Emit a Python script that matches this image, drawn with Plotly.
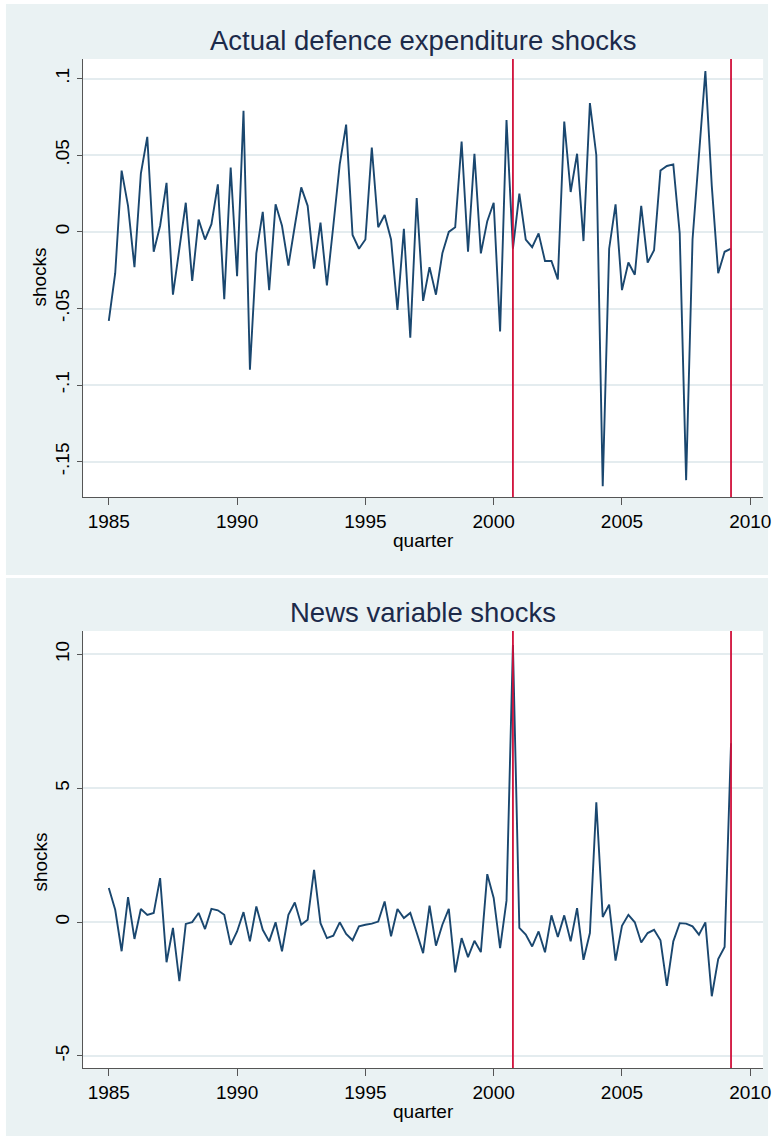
"""Defence expenditure shocks vs news variable shocks (Stata-style two-panel)."""

import plotly.graph_objects as go

# quarterly shocks, 1985q1 .. 2009q2
defence_shocks = [
    -0.058, -0.027, 0.040, 0.017, -0.023, 0.038, 0.062, -0.013, 0.004, 0.032,
    -0.041, -0.012, 0.019, -0.032, 0.008, -0.005, 0.005, 0.031, -0.044, 0.042,
    -0.029, 0.079, -0.090, -0.014, 0.013, -0.038, 0.018, 0.004, -0.022, 0.004,
    0.029, 0.017, -0.024, 0.006, -0.035, 0.004, 0.044, 0.070, -0.002, -0.011,
    -0.005, 0.055, 0.003, 0.011, -0.005, -0.051, 0.002, -0.069, 0.022, -0.045,
    -0.023, -0.041, -0.014, 0.000, 0.003, 0.059, -0.013, 0.051, -0.014, 0.007,
    0.019, -0.065, 0.073, -0.011, 0.025, -0.005, -0.010, -0.001, -0.019, -0.019,
    -0.031, 0.072, 0.026, 0.051, -0.006, 0.084, 0.050, -0.166, -0.011, 0.018,
    -0.038, -0.020, -0.028, 0.017, -0.020, -0.012, 0.040, 0.043, 0.044, -0.001,
    -0.162, -0.005, 0.048, 0.105, 0.030, -0.027, -0.013, -0.011,
]
news_shocks = [
    1.27, 0.46, -1.09, 0.93, -0.63, 0.49, 0.27, 0.34, 1.64, -1.50,
    -0.22, -2.21, -0.07, 0.00, 0.34, -0.26, 0.49, 0.44, 0.27, -0.85,
    -0.35, 0.37, -0.72, 0.58, -0.29, -0.72, -0.01, -1.09, 0.27, 0.73,
    -0.10, 0.09, 1.95, -0.04, -0.60, -0.51, -0.01, -0.44, -0.68, -0.16,
    -0.10, -0.06, 0.02, 0.77, -0.53, 0.49, 0.15, 0.34, -0.40, -1.16,
    0.61, -0.88, -0.10, 0.49, -1.88, -0.60, -1.31, -0.70, -1.12, 1.79,
    0.90, -0.97, 0.80, 10.35, -0.22, -0.47, -0.91, -0.35, -1.13, 0.25,
    -0.56, 0.25, -0.72, 0.52, -1.41, -0.41, 4.47, 0.19, 0.65, -1.44,
    -0.14, 0.27, -0.01, -0.76, -0.41, -0.29, -0.68, -2.38, -0.72, -0.04,
    -0.06, -0.16, -0.47, -0.01, -2.77, -1.38, -0.93, 6.68,
]
quarters = [1985 + i / 4 for i in range(len(defence_shocks))]

# 2000q4 and 2009q2
event_quarters = [2000.75, 2009.25]

x_ticks = [1985, 1990, 1995, 2000, 2005, 2010]
top_ticks = [0.1, 0.05, 0, -0.05, -0.1, -0.15]
top_labels = [".1", ".05", "0", "-.05", "-.1", "-.15"]
bottom_ticks = [10, 5, 0, -5]
bottom_labels = ["10", "5", "0", "-5"]

W, H = 781, 1139
NAVY = "#1a476f"
RED = "#d0103a"
PANEL = "#eaf2f3"
GRID = "#e4ecef"
AXIS = "#555555"
TITLE = "#1c2a4a"
FONT = "Liberation Sans, Arial, sans-serif"


def px_x(v):
    return v / W


def px_y(v):
    return 1 - v / H


fig = go.Figure()
fig.add_trace(go.Scatter(x=quarters, y=defence_shocks, mode="lines",
                         line={"color": NAVY, "width": 1.9},
                         xaxis="x", yaxis="y", showlegend=False))
fig.add_trace(go.Scatter(x=quarters, y=news_shocks, mode="lines",
                         line={"color": NAVY, "width": 1.9},
                         xaxis="x2", yaxis="y2", showlegend=False))

shapes = []
# grey graph regions, then white plot regions
for top, bottom in [(4, 575), (578, 1136)]:
    shapes.append(dict(type="rect", xref="paper", yref="paper", layer="below",
                       x0=px_x(6), x1=px_x(776), y0=px_y(bottom), y1=px_y(top),
                       fillcolor=PANEL, line={"width": 0}))
for top, bottom in [(59, 497), (631, 1068)]:
    shapes.append(dict(type="rect", xref="paper", yref="paper", layer="below",
                       x0=px_x(84), x1=px_x(771), y0=px_y(bottom), y1=px_y(top),
                       fillcolor="white", line={"width": 0}))
for xr, yr in [("x", "y"), ("x2", "y2")]:
    for q in event_quarters:
        shapes.append(dict(type="line", xref=xr, yref=f"{yr} domain",
                           x0=q, x1=q, y0=0, y1=1, layer="above",
                           line={"color": RED, "width": 1.8}))

axis_common = dict(
    showline=True, linecolor=AXIS, linewidth=1.2, ticks="outside",
    tickcolor=AXIS, tickfont={"size": 19, "color": "black"},
    zeroline=False, mirror=False,
)
xaxis = dict(axis_common, range=[1984.0, 2010.5], tickvals=x_ticks, ticklen=7,
             showgrid=False, domain=[px_x(84), px_x(771)],
             title={"text": "quarter", "font": {"size": 19, "color": "black"},
                    "standoff": 2})


def text_note(text, x, y, size=19, color="black", angle=0):
    return dict(text=text, xref="paper", yref="paper", x=px_x(x), y=px_y(y),
                xanchor="center", yanchor="middle", showarrow=False,
                textangle=angle, font={"size": size, "color": color})


fig.update_layout(
    width=W, height=H,
    margin={"l": 0, "r": 0, "t": 0, "b": 0},
    paper_bgcolor="white", plot_bgcolor="rgba(0,0,0,0)",
    font={"family": FONT, "color": "black"},
    xaxis=dict(xaxis, anchor="y"),
    yaxis=dict(axis_common, range=[-0.173, 0.1128], tickvals=top_ticks,
               ticktext=top_labels, tickangle=-90, ticklen=5, showgrid=True,
               gridcolor=GRID, gridwidth=1.5, anchor="x",
               domain=[px_y(497), px_y(59)]),
    xaxis2=dict(xaxis, anchor="y2"),
    yaxis2=dict(axis_common, range=[-5.45, 10.87], tickvals=bottom_ticks,
                ticktext=bottom_labels, tickangle=-90, ticklen=5, showgrid=True,
                gridcolor=GRID, gridwidth=1.5, anchor="x2",
                domain=[px_y(1068), px_y(631)]),
    shapes=shapes,
    annotations=[
        text_note("Actual defence expenditure shocks", 427.5, 40, 27.5, TITLE),
        text_note("News variable shocks", 427.5, 612, 27.5, TITLE),
        text_note("shocks", 40, 277, angle=-90),
        text_note("shocks", 40, 862, angle=-90),
    ],
)

# drop the default body margin so the figure fills the window exactly
fig.write_html("out.html", config={"displayModeBar": False},
               post_script="document.body.style.margin = '0';")
